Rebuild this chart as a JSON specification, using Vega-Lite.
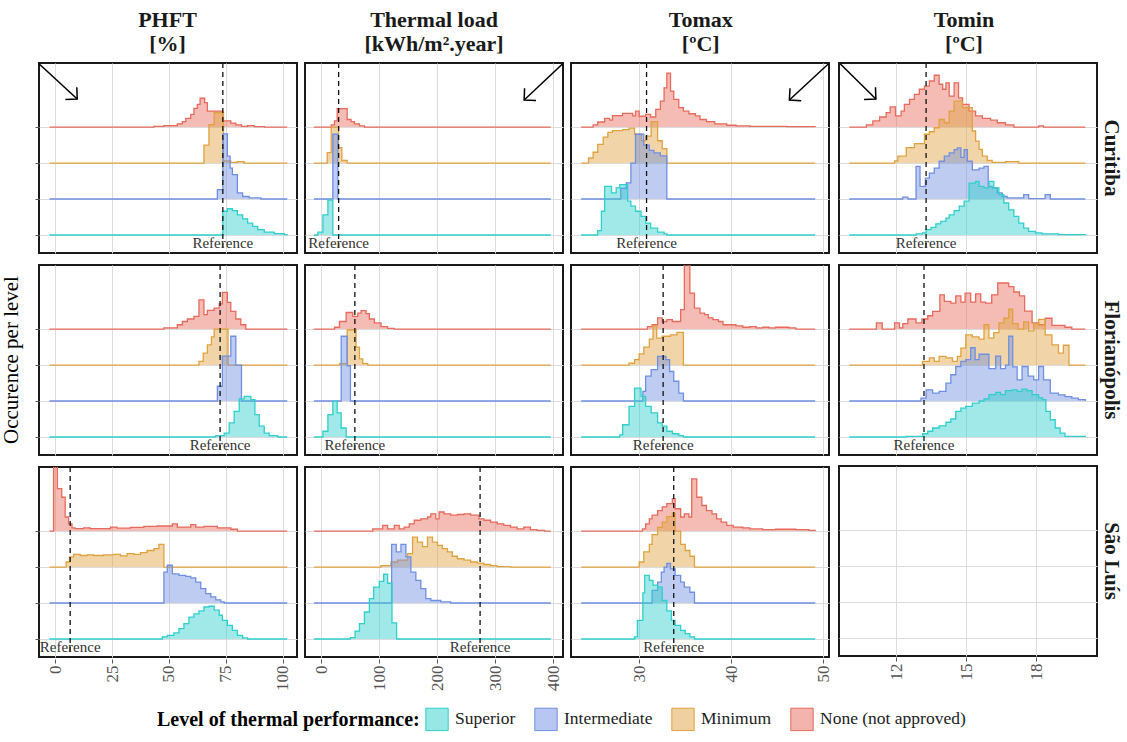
{
"$schema": "https://vega.github.io/schema/vega-lite/v6.json",
"background": "white",
"padding": {"left": 0, "top": 9, "right": 0, "bottom": 0},
"spacing": 6,
"config": {
  "font": "Liberation Serif",
  "view": {"stroke": "#1a1a1a", "strokeWidth": 2},
  "axis": {"gridColor": "#dcdcdc", "gridWidth": 1, "domain": false, "labelFont": "Liberation Serif", "labelFontSize": 17, "labelColor": "#555555", "tickColor": "#555555", "tickSize": 4},
  "axisX": {"labelAngle": -90, "grid": true, "labelPadding": 2},
  "title": {"font": "Liberation Serif", "fontSize": 22, "fontWeight": "bold", "color": "#1a1a1a", "anchor": "middle", "offset": 5, "lineHeight": 24},
  "legend": {"titleFont": "Liberation Serif", "titleFontSize": 20, "titleFontWeight": "bold", "titleColor": "#000000", "labelFont": "Liberation Serif", "labelFontSize": 17.5, "labelColor": "#222222", "columnPadding": 16, "labelOffset": 6, "titleLimit": 500, "layout": {"bottom": {"anchor": "middle"}}}
},
"datasets": {
"phft": [
{"c":"C","l":"N","x":-2.5,"h":0},{"c":"C","l":"N","x":43.4,"h":0.02},{"c":"C","l":"N","x":47.8,"h":0.04},{"c":"C","l":"N","x":53.7,"h":0.09},{"c":"C","l":"N","x":55.9,"h":0.15},{"c":"C","l":"N","x":57.4,"h":0.24},{"c":"C","l":"N","x":59.6,"h":0.35},{"c":"C","l":"N","x":61,"h":0.52},{"c":"C","l":"N","x":62.5,"h":0.63},{"c":"C","l":"N","x":63.7,"h":0.8},{"c":"C","l":"N","x":65.7,"h":0.68},{"c":"C","l":"N","x":66.9,"h":0.44},{"c":"C","l":"N","x":73.7,"h":0.17},{"c":"C","l":"N","x":77.2,"h":0.11},{"c":"C","l":"N","x":79.4,"h":0.06},{"c":"C","l":"N","x":81.9,"h":0.02},{"c":"C","l":"N","x":84.6,"h":0.04},{"c":"C","l":"N","x":87.5,"h":0.01},{"c":"C","l":"N","x":92,"h":0},{"c":"C","l":"N","x":102,"h":0},
{"c":"C","l":"M","x":-2.5,"h":0},{"c":"C","l":"M","x":65.4,"h":0.5},{"c":"C","l":"M","x":67.6,"h":1.07},{"c":"C","l":"M","x":69.9,"h":1.4},{"c":"C","l":"M","x":74,"h":0.06},{"c":"C","l":"M","x":77.2,"h":0.02},{"c":"C","l":"M","x":80.1,"h":0.04},{"c":"C","l":"M","x":83.1,"h":0},{"c":"C","l":"M","x":102,"h":0},
{"c":"C","l":"I","x":-2.5,"h":0},{"c":"C","l":"I","x":71.3,"h":0.26},{"c":"C","l":"I","x":73.7,"h":1.81},{"c":"C","l":"I","x":75.7,"h":1.19},{"c":"C","l":"I","x":76.9,"h":0.86},{"c":"C","l":"I","x":77.9,"h":0.68},{"c":"C","l":"I","x":80.1,"h":0.17},{"c":"C","l":"I","x":82.4,"h":0.07},{"c":"C","l":"I","x":85.3,"h":0.03},{"c":"C","l":"I","x":90.4,"h":0},{"c":"C","l":"I","x":102,"h":0},
{"c":"C","l":"S","x":-2.5,"h":0},{"c":"C","l":"S","x":73.7,"h":0.66},{"c":"C","l":"S","x":75.7,"h":0.73},{"c":"C","l":"S","x":77.9,"h":0.68},{"c":"C","l":"S","x":80.1,"h":0.56},{"c":"C","l":"S","x":82.4,"h":0.45},{"c":"C","l":"S","x":84.6,"h":0.33},{"c":"C","l":"S","x":86.8,"h":0.24},{"c":"C","l":"S","x":89,"h":0.15},{"c":"C","l":"S","x":91.9,"h":0.08},{"c":"C","l":"S","x":96.3,"h":0.04},{"c":"C","l":"S","x":100.7,"h":0.01},{"c":"C","l":"S","x":102,"h":0},
{"c":"F","l":"N","x":-2.5,"h":0},{"c":"F","l":"N","x":47.8,"h":0.03},{"c":"F","l":"N","x":53.7,"h":0.12},{"c":"F","l":"N","x":55.9,"h":0.21},{"c":"F","l":"N","x":58.1,"h":0.28},{"c":"F","l":"N","x":61,"h":0.35},{"c":"F","l":"N","x":63.2,"h":0.81},{"c":"F","l":"N","x":65.4,"h":0.4},{"c":"F","l":"N","x":66.9,"h":0.52},{"c":"F","l":"N","x":69.9,"h":0.58},{"c":"F","l":"N","x":72.1,"h":0.7},{"c":"F","l":"N","x":73.5,"h":1.02},{"c":"F","l":"N","x":75.7,"h":0.74},{"c":"F","l":"N","x":77.2,"h":0.49},{"c":"F","l":"N","x":79.4,"h":0.28},{"c":"F","l":"N","x":81.6,"h":0.12},{"c":"F","l":"N","x":83.8,"h":0},{"c":"F","l":"N","x":102,"h":0},
{"c":"F","l":"M","x":-2.5,"h":0},{"c":"F","l":"M","x":63.2,"h":0.1},{"c":"F","l":"M","x":65.1,"h":0.33},{"c":"F","l":"M","x":66.9,"h":0.56},{"c":"F","l":"M","x":68.7,"h":0.78},{"c":"F","l":"M","x":69.9,"h":1.0},{"c":"F","l":"M","x":76,"h":0},{"c":"F","l":"M","x":102,"h":0},
{"c":"F","l":"I","x":-2.5,"h":0},{"c":"F","l":"I","x":71.3,"h":0.41},{"c":"F","l":"I","x":73.5,"h":1.25},{"c":"F","l":"I","x":77.2,"h":1.8},{"c":"F","l":"I","x":79.4,"h":1.0},{"c":"F","l":"I","x":81.9,"h":0},{"c":"F","l":"I","x":102,"h":0},
{"c":"F","l":"S","x":-2.5,"h":0},{"c":"F","l":"S","x":70.6,"h":0.04},{"c":"F","l":"S","x":74.3,"h":0.11},{"c":"F","l":"S","x":76.5,"h":0.39},{"c":"F","l":"S","x":78.7,"h":0.71},{"c":"F","l":"S","x":80.9,"h":1.06},{"c":"F","l":"S","x":83.1,"h":1.13},{"c":"F","l":"S","x":86,"h":1.04},{"c":"F","l":"S","x":87.8,"h":0.62},{"c":"F","l":"S","x":89.7,"h":0.3},{"c":"F","l":"S","x":91.9,"h":0.11},{"c":"F","l":"S","x":94.1,"h":0.04},{"c":"F","l":"S","x":97.8,"h":0},{"c":"F","l":"S","x":102,"h":0},
{"c":"S","l":"N","x":-2.5,"h":0},{"c":"S","l":"N","x":-0.7,"h":1.9},{"c":"S","l":"N","x":1,"h":1.18},{"c":"S","l":"N","x":2.9,"h":0.94},{"c":"S","l":"N","x":4.4,"h":0.39},{"c":"S","l":"N","x":5.9,"h":0.2},{"c":"S","l":"N","x":7.4,"h":0.09},{"c":"S","l":"N","x":8.8,"h":0.07},{"c":"S","l":"N","x":12.5,"h":0.09},{"c":"S","l":"N","x":15.4,"h":0.07},{"c":"S","l":"N","x":24.3,"h":0.11},{"c":"S","l":"N","x":27.2,"h":0.08},{"c":"S","l":"N","x":33.1,"h":0.1},{"c":"S","l":"N","x":39,"h":0.13},{"c":"S","l":"N","x":44.9,"h":0.14},{"c":"S","l":"N","x":51.5,"h":0.2},{"c":"S","l":"N","x":53.7,"h":0.11},{"c":"S","l":"N","x":59.6,"h":0.18},{"c":"S","l":"N","x":61.8,"h":0.11},{"c":"S","l":"N","x":65.4,"h":0.13},{"c":"S","l":"N","x":71.3,"h":0.09},{"c":"S","l":"N","x":77.2,"h":0.05},{"c":"S","l":"N","x":80.1,"h":0},{"c":"S","l":"N","x":102,"h":0},
{"c":"S","l":"M","x":-2.5,"h":0},{"c":"S","l":"M","x":4.85,"h":0.14},{"c":"S","l":"M","x":6.3,"h":0.28},{"c":"S","l":"M","x":8.1,"h":0.35},{"c":"S","l":"M","x":11,"h":0.32},{"c":"S","l":"M","x":14,"h":0.34},{"c":"S","l":"M","x":16.9,"h":0.32},{"c":"S","l":"M","x":21.3,"h":0.34},{"c":"S","l":"M","x":25.7,"h":0.35},{"c":"S","l":"M","x":28.7,"h":0.31},{"c":"S","l":"M","x":31.6,"h":0.37},{"c":"S","l":"M","x":34.6,"h":0.35},{"c":"S","l":"M","x":37.5,"h":0.4},{"c":"S","l":"M","x":40.4,"h":0.46},{"c":"S","l":"M","x":43.4,"h":0.51},{"c":"S","l":"M","x":45.6,"h":0.63},{"c":"S","l":"M","x":47.8,"h":0},{"c":"S","l":"M","x":102,"h":0},
{"c":"S","l":"I","x":-2.5,"h":0},{"c":"S","l":"I","x":47.8,"h":0.86},{"c":"S","l":"I","x":49.3,"h":1.05},{"c":"S","l":"I","x":51.5,"h":0.81},{"c":"S","l":"I","x":54.4,"h":0.77},{"c":"S","l":"I","x":57.4,"h":0.74},{"c":"S","l":"I","x":59.6,"h":0.7},{"c":"S","l":"I","x":61.8,"h":0.58},{"c":"S","l":"I","x":64,"h":0.4},{"c":"S","l":"I","x":66.2,"h":0.26},{"c":"S","l":"I","x":68.4,"h":0.17},{"c":"S","l":"I","x":70.6,"h":0.09},{"c":"S","l":"I","x":72.8,"h":0.03},{"c":"S","l":"I","x":74.3,"h":0},{"c":"S","l":"I","x":102,"h":0},
{"c":"S","l":"S","x":-2.5,"h":0},{"c":"S","l":"S","x":47.1,"h":0.06},{"c":"S","l":"S","x":49.3,"h":0.1},{"c":"S","l":"S","x":52.2,"h":0.17},{"c":"S","l":"S","x":54.4,"h":0.29},{"c":"S","l":"S","x":56.6,"h":0.43},{"c":"S","l":"S","x":58.8,"h":0.61},{"c":"S","l":"S","x":61,"h":0.7},{"c":"S","l":"S","x":63.2,"h":0.78},{"c":"S","l":"S","x":65.4,"h":0.89},{"c":"S","l":"S","x":67.6,"h":0.91},{"c":"S","l":"S","x":69.9,"h":0.8},{"c":"S","l":"S","x":72.1,"h":0.66},{"c":"S","l":"S","x":73.5,"h":0.52},{"c":"S","l":"S","x":75.7,"h":0.38},{"c":"S","l":"S","x":77.9,"h":0.24},{"c":"S","l":"S","x":80.1,"h":0.1},{"c":"S","l":"S","x":82.4,"h":0.03},{"c":"S","l":"S","x":84.6,"h":0},{"c":"S","l":"S","x":102,"h":0},
{"c":"C","l":"R","x":73.7},{"c":"F","l":"R","x":72.5},{"c":"S","l":"R","x":6.6},
{"c":"C","l":"A","x":-7.1,"y":5.76,"x2":9.7,"y2":4.78}
],
"load": [
{"c":"C","l":"N","x":-12.6,"h":0},{"c":"C","l":"N","x":17.2,"h":0.06},{"c":"C","l":"N","x":22.9,"h":0.17},{"c":"C","l":"N","x":27.5,"h":0.51},{"c":"C","l":"N","x":44.7,"h":0.21},{"c":"C","l":"N","x":51.5,"h":0.15},{"c":"C","l":"N","x":57.3,"h":0.09},{"c":"C","l":"N","x":65.9,"h":0.03},{"c":"C","l":"N","x":74.5,"h":0},{"c":"C","l":"N","x":396,"h":0},
{"c":"C","l":"M","x":-12.6,"h":0},{"c":"C","l":"M","x":10.3,"h":0.29},{"c":"C","l":"M","x":17.2,"h":1.0},{"c":"C","l":"M","x":29.8,"h":0.43},{"c":"C","l":"M","x":35.5,"h":0.07},{"c":"C","l":"M","x":44.7,"h":0},{"c":"C","l":"M","x":396,"h":0},
{"c":"C","l":"I","x":-12.6,"h":0},{"c":"C","l":"I","x":20,"h":1.8},{"c":"C","l":"I","x":28.6,"h":0},{"c":"C","l":"I","x":396,"h":0},
{"c":"C","l":"S","x":-12.6,"h":0},{"c":"C","l":"S","x":-5.7,"h":0.08},{"c":"C","l":"S","x":2.9,"h":0.56},{"c":"C","l":"S","x":11.5,"h":0.97},{"c":"C","l":"S","x":20,"h":0},{"c":"C","l":"S","x":396,"h":0},
{"c":"F","l":"N","x":-12.6,"h":0},{"c":"F","l":"N","x":22.9,"h":0.05},{"c":"F","l":"N","x":31.5,"h":0.21},{"c":"F","l":"N","x":43,"h":0.46},{"c":"F","l":"N","x":54.4,"h":0.35},{"c":"F","l":"N","x":63,"h":0.44},{"c":"F","l":"N","x":68.7,"h":0.51},{"c":"F","l":"N","x":77.3,"h":0.43},{"c":"F","l":"N","x":83,"h":0.28},{"c":"F","l":"N","x":91.6,"h":0.17},{"c":"F","l":"N","x":103.1,"h":0.07},{"c":"F","l":"N","x":114.5,"h":0.02},{"c":"F","l":"N","x":126,"h":0},{"c":"F","l":"N","x":396,"h":0},
{"c":"F","l":"M","x":-12.6,"h":0},{"c":"F","l":"M","x":31.5,"h":0.04},{"c":"F","l":"M","x":44.7,"h":0.98},{"c":"F","l":"M","x":60.1,"h":0.5},{"c":"F","l":"M","x":65.9,"h":0.17},{"c":"F","l":"M","x":71.6,"h":0.04},{"c":"F","l":"M","x":80.2,"h":0},{"c":"F","l":"M","x":396,"h":0},
{"c":"F","l":"I","x":-12.6,"h":0},{"c":"F","l":"I","x":34.4,"h":1.8},{"c":"F","l":"I","x":44.7,"h":0.98},{"c":"F","l":"I","x":50.4,"h":0},{"c":"F","l":"I","x":396,"h":0},
{"c":"F","l":"S","x":-12.6,"h":0},{"c":"F","l":"S","x":2.9,"h":0.16},{"c":"F","l":"S","x":11.5,"h":0.62},{"c":"F","l":"S","x":20,"h":0.99},{"c":"F","l":"S","x":27.5,"h":0.67},{"c":"F","l":"S","x":34.4,"h":0.25},{"c":"F","l":"S","x":43,"h":0},{"c":"F","l":"S","x":396,"h":0},
{"c":"S","l":"N","x":-12.6,"h":0},{"c":"S","l":"N","x":88.8,"h":0.06},{"c":"S","l":"N","x":106,"h":0.16},{"c":"S","l":"N","x":114.5,"h":0.06},{"c":"S","l":"N","x":126,"h":0.16},{"c":"S","l":"N","x":134.6,"h":0.06},{"c":"S","l":"N","x":143.2,"h":0.11},{"c":"S","l":"N","x":151.8,"h":0.2},{"c":"S","l":"N","x":160.4,"h":0.3},{"c":"S","l":"N","x":171.8,"h":0.34},{"c":"S","l":"N","x":183.3,"h":0.39},{"c":"S","l":"N","x":189,"h":0.48},{"c":"S","l":"N","x":197.6,"h":0.34},{"c":"S","l":"N","x":203.3,"h":0.53},{"c":"S","l":"N","x":211.9,"h":0.48},{"c":"S","l":"N","x":223.4,"h":0.44},{"c":"S","l":"N","x":234.8,"h":0.46},{"c":"S","l":"N","x":246.3,"h":0.48},{"c":"S","l":"N","x":257.7,"h":0.44},{"c":"S","l":"N","x":272,"h":0.34},{"c":"S","l":"N","x":280.6,"h":0.3},{"c":"S","l":"N","x":292.1,"h":0.25},{"c":"S","l":"N","x":303.5,"h":0.2},{"c":"S","l":"N","x":315,"h":0.16},{"c":"S","l":"N","x":326.5,"h":0.11},{"c":"S","l":"N","x":337.9,"h":0.06},{"c":"S","l":"N","x":349.4,"h":0.11},{"c":"S","l":"N","x":360.8,"h":0.04},{"c":"S","l":"N","x":372.3,"h":0.02},{"c":"S","l":"N","x":385,"h":0},{"c":"S","l":"N","x":396,"h":0},
{"c":"S","l":"M","x":-12.6,"h":0},{"c":"S","l":"M","x":103.1,"h":0.04},{"c":"S","l":"M","x":120.3,"h":0.14},{"c":"S","l":"M","x":131.7,"h":0.19},{"c":"S","l":"M","x":148.9,"h":0.37},{"c":"S","l":"M","x":157.5,"h":0.83},{"c":"S","l":"M","x":166.1,"h":0.69},{"c":"S","l":"M","x":174.7,"h":0.57},{"c":"S","l":"M","x":183.3,"h":0.83},{"c":"S","l":"M","x":191.9,"h":0.69},{"c":"S","l":"M","x":200.5,"h":0.6},{"c":"S","l":"M","x":209,"h":0.51},{"c":"S","l":"M","x":217.6,"h":0.42},{"c":"S","l":"M","x":226.2,"h":0.3},{"c":"S","l":"M","x":234.8,"h":0.23},{"c":"S","l":"M","x":246.3,"h":0.19},{"c":"S","l":"M","x":257.7,"h":0.14},{"c":"S","l":"M","x":269.2,"h":0.11},{"c":"S","l":"M","x":280.6,"h":0.07},{"c":"S","l":"M","x":292.1,"h":0.04},{"c":"S","l":"M","x":303.5,"h":0.01},{"c":"S","l":"M","x":326.5,"h":0},{"c":"S","l":"M","x":396,"h":0},
{"c":"S","l":"I","x":-12.6,"h":0},{"c":"S","l":"I","x":121.4,"h":1.63},{"c":"S","l":"I","x":129.4,"h":1.42},{"c":"S","l":"I","x":137.5,"h":1.63},{"c":"S","l":"I","x":146,"h":1.28},{"c":"S","l":"I","x":154.6,"h":0.86},{"c":"S","l":"I","x":163.2,"h":0.63},{"c":"S","l":"I","x":171.8,"h":0.4},{"c":"S","l":"I","x":180.4,"h":0.12},{"c":"S","l":"I","x":189,"h":0.07},{"c":"S","l":"I","x":206.2,"h":0.03},{"c":"S","l":"I","x":223.4,"h":0},{"c":"S","l":"I","x":396,"h":0},
{"c":"S","l":"S","x":-12.6,"h":0},{"c":"S","l":"S","x":50.4,"h":0.04},{"c":"S","l":"S","x":58.4,"h":0.22},{"c":"S","l":"S","x":65.9,"h":0.43},{"c":"S","l":"S","x":74.5,"h":0.75},{"c":"S","l":"S","x":83,"h":1.12},{"c":"S","l":"S","x":90.5,"h":1.44},{"c":"S","l":"S","x":100.2,"h":1.6},{"c":"S","l":"S","x":107.7,"h":1.8},{"c":"S","l":"S","x":114.5,"h":1.55},{"c":"S","l":"S","x":122,"h":0.45},{"c":"S","l":"S","x":130,"h":0},{"c":"S","l":"S","x":396,"h":0},
{"c":"C","l":"R","x":30},{"c":"F","l":"R","x":58},{"c":"S","l":"R","x":274},
{"c":"C","l":"A","x":416.5,"y":5.76,"x2":350,"y2":4.75}
],
"tmax": [
{"c":"C","l":"N","x":23.7,"h":0},{"c":"C","l":"N","x":25,"h":0.06},{"c":"C","l":"N","x":25.5,"h":0.14},{"c":"C","l":"N","x":26.25,"h":0.24},{"c":"C","l":"N","x":26.8,"h":0.19},{"c":"C","l":"N","x":27.1,"h":0.32},{"c":"C","l":"N","x":28.2,"h":0.38},{"c":"C","l":"N","x":29.3,"h":0.31},{"c":"C","l":"N","x":29.6,"h":0.44},{"c":"C","l":"N","x":30,"h":0.3},{"c":"C","l":"N","x":30.7,"h":0.35},{"c":"C","l":"N","x":31.25,"h":0.28},{"c":"C","l":"N","x":31.8,"h":0.49},{"c":"C","l":"N","x":32.3,"h":0.72},{"c":"C","l":"N","x":32.7,"h":1.09},{"c":"C","l":"N","x":33,"h":1.5},{"c":"C","l":"N","x":33.4,"h":1.0},{"c":"C","l":"N","x":33.75,"h":0.77},{"c":"C","l":"N","x":34.3,"h":0.54},{"c":"C","l":"N","x":34.8,"h":0.44},{"c":"C","l":"N","x":35.4,"h":0.37},{"c":"C","l":"N","x":36.1,"h":0.31},{"c":"C","l":"N","x":36.6,"h":0.21},{"c":"C","l":"N","x":37.3,"h":0.15},{"c":"C","l":"N","x":38.2,"h":0.09},{"c":"C","l":"N","x":39.5,"h":0.05},{"c":"C","l":"N","x":40.5,"h":0.03},{"c":"C","l":"N","x":42,"h":0.02},{"c":"C","l":"N","x":46,"h":0.01},{"c":"C","l":"N","x":49.1,"h":0},
{"c":"C","l":"M","x":23.7,"h":0},{"c":"C","l":"M","x":24.5,"h":0.14},{"c":"C","l":"M","x":25,"h":0.3},{"c":"C","l":"M","x":25.5,"h":0.52},{"c":"C","l":"M","x":26.1,"h":0.72},{"c":"C","l":"M","x":26.6,"h":0.85},{"c":"C","l":"M","x":27.1,"h":0.9},{"c":"C","l":"M","x":28.2,"h":0.93},{"c":"C","l":"M","x":28.9,"h":0.97},{"c":"C","l":"M","x":29.5,"h":0.8},{"c":"C","l":"M","x":30.25,"h":0.62},{"c":"C","l":"M","x":30.7,"h":0.75},{"c":"C","l":"M","x":31.3,"h":1.15},{"c":"C","l":"M","x":32,"h":0.62},{"c":"C","l":"M","x":32.5,"h":0.4},{"c":"C","l":"M","x":33,"h":0},{"c":"C","l":"M","x":49.1,"h":0},
{"c":"C","l":"I","x":23.7,"h":0},{"c":"C","l":"I","x":28,"h":0.3},{"c":"C","l":"I","x":28.6,"h":0.45},{"c":"C","l":"I","x":29.1,"h":1.0},{"c":"C","l":"I","x":29.6,"h":1.8},{"c":"C","l":"I","x":30.5,"h":1.5},{"c":"C","l":"I","x":31.1,"h":1.35},{"c":"C","l":"I","x":31.6,"h":1.28},{"c":"C","l":"I","x":32.3,"h":1.2},{"c":"C","l":"I","x":33,"h":0},{"c":"C","l":"I","x":49.1,"h":0},
{"c":"C","l":"S","x":23.7,"h":0},{"c":"C","l":"S","x":25.5,"h":0.12},{"c":"C","l":"S","x":25.9,"h":0.66},{"c":"C","l":"S","x":26.25,"h":1.35},{"c":"C","l":"S","x":27,"h":1.17},{"c":"C","l":"S","x":27.5,"h":1.31},{"c":"C","l":"S","x":27.9,"h":1.4},{"c":"C","l":"S","x":28.75,"h":0.94},{"c":"C","l":"S","x":29.1,"h":0.8},{"c":"C","l":"S","x":29.6,"h":0.66},{"c":"C","l":"S","x":30.2,"h":0.52},{"c":"C","l":"S","x":30.7,"h":0.33},{"c":"C","l":"S","x":31.25,"h":0.19},{"c":"C","l":"S","x":32,"h":0.08},{"c":"C","l":"S","x":32.7,"h":0.03},{"c":"C","l":"S","x":33,"h":0},{"c":"C","l":"S","x":49.1,"h":0},
{"c":"F","l":"N","x":23.7,"h":0},{"c":"F","l":"N","x":30.9,"h":0.07},{"c":"F","l":"N","x":31.4,"h":0.12},{"c":"F","l":"N","x":32,"h":0.31},{"c":"F","l":"N","x":32.5,"h":0.21},{"c":"F","l":"N","x":33,"h":0.26},{"c":"F","l":"N","x":33.6,"h":0.21},{"c":"F","l":"N","x":34.5,"h":0.54},{"c":"F","l":"N","x":34.9,"h":1.9},{"c":"F","l":"N","x":35.5,"h":1.0},{"c":"F","l":"N","x":36,"h":0.58},{"c":"F","l":"N","x":36.6,"h":0.44},{"c":"F","l":"N","x":37.1,"h":0.4},{"c":"F","l":"N","x":37.5,"h":0.31},{"c":"F","l":"N","x":38,"h":0.26},{"c":"F","l":"N","x":38.6,"h":0.21},{"c":"F","l":"N","x":39.1,"h":0.12},{"c":"F","l":"N","x":39.8,"h":0.12},{"c":"F","l":"N","x":40.5,"h":0.09},{"c":"F","l":"N","x":41.25,"h":0.05},{"c":"F","l":"N","x":42,"h":0.07},{"c":"F","l":"N","x":42.7,"h":0.03},{"c":"F","l":"N","x":43.4,"h":0.05},{"c":"F","l":"N","x":44.1,"h":0.03},{"c":"F","l":"N","x":44.8,"h":0.05},{"c":"F","l":"N","x":46.25,"h":0.03},{"c":"F","l":"N","x":47,"h":0},{"c":"F","l":"N","x":49.1,"h":0},
{"c":"F","l":"M","x":23.7,"h":0},{"c":"F","l":"M","x":28.9,"h":0.05},{"c":"F","l":"M","x":29.5,"h":0.15},{"c":"F","l":"M","x":30,"h":0.31},{"c":"F","l":"M","x":30.5,"h":0.5},{"c":"F","l":"M","x":31.1,"h":0.72},{"c":"F","l":"M","x":31.5,"h":1.09},{"c":"F","l":"M","x":31.9,"h":0.75},{"c":"F","l":"M","x":32.5,"h":0.8},{"c":"F","l":"M","x":33.4,"h":0.84},{"c":"F","l":"M","x":34.1,"h":0.91},{"c":"F","l":"M","x":34.8,"h":0},{"c":"F","l":"M","x":49.1,"h":0},
{"c":"F","l":"I","x":23.7,"h":0},{"c":"F","l":"I","x":30.4,"h":0.27},{"c":"F","l":"I","x":30.7,"h":0.69},{"c":"F","l":"I","x":31.3,"h":0.87},{"c":"F","l":"I","x":32,"h":1.24},{"c":"F","l":"I","x":32.9,"h":1.15},{"c":"F","l":"I","x":33.3,"h":0.82},{"c":"F","l":"I","x":33.75,"h":0.55},{"c":"F","l":"I","x":34.3,"h":0.22},{"c":"F","l":"I","x":34.8,"h":0},{"c":"F","l":"I","x":49.1,"h":0},
{"c":"F","l":"S","x":23.7,"h":0},{"c":"F","l":"S","x":27.9,"h":0.06},{"c":"F","l":"S","x":28.2,"h":0.34},{"c":"F","l":"S","x":28.9,"h":0.85},{"c":"F","l":"S","x":29.5,"h":1.36},{"c":"F","l":"S","x":30.2,"h":1.13},{"c":"F","l":"S","x":30.7,"h":0.85},{"c":"F","l":"S","x":31.3,"h":0.67},{"c":"F","l":"S","x":32,"h":0.39},{"c":"F","l":"S","x":32.5,"h":0.3},{"c":"F","l":"S","x":33,"h":0.16},{"c":"F","l":"S","x":33.6,"h":0.09},{"c":"F","l":"S","x":34.3,"h":0.04},{"c":"F","l":"S","x":34.8,"h":0},{"c":"F","l":"S","x":49.1,"h":0},
{"c":"S","l":"N","x":23.7,"h":0},{"c":"S","l":"N","x":30.36,"h":0.06},{"c":"S","l":"N","x":30.7,"h":0.2},{"c":"S","l":"N","x":31.1,"h":0.34},{"c":"S","l":"N","x":31.4,"h":0.44},{"c":"S","l":"N","x":32,"h":0.57},{"c":"S","l":"N","x":32.5,"h":0.67},{"c":"S","l":"N","x":33,"h":0.76},{"c":"S","l":"N","x":33.6,"h":0.9},{"c":"S","l":"N","x":33.9,"h":0.62},{"c":"S","l":"N","x":34.5,"h":0.39},{"c":"S","l":"N","x":34.9,"h":0.48},{"c":"S","l":"N","x":35.4,"h":0.39},{"c":"S","l":"N","x":35.7,"h":1.45},{"c":"S","l":"N","x":36.25,"h":0.94},{"c":"S","l":"N","x":36.8,"h":0.71},{"c":"S","l":"N","x":37.3,"h":0.57},{"c":"S","l":"N","x":37.9,"h":0.48},{"c":"S","l":"N","x":38.4,"h":0.34},{"c":"S","l":"N","x":38.9,"h":0.25},{"c":"S","l":"N","x":39.5,"h":0.16},{"c":"S","l":"N","x":40.2,"h":0.11},{"c":"S","l":"N","x":41.25,"h":0.09},{"c":"S","l":"N","x":42,"h":0.06},{"c":"S","l":"N","x":43.4,"h":0.04},{"c":"S","l":"N","x":44.8,"h":0.05},{"c":"S","l":"N","x":47,"h":0.04},{"c":"S","l":"N","x":48.4,"h":0.02},{"c":"S","l":"N","x":49.1,"h":0},
{"c":"S","l":"M","x":23.7,"h":0},{"c":"S","l":"M","x":30,"h":0.14},{"c":"S","l":"M","x":30.5,"h":0.42},{"c":"S","l":"M","x":31.1,"h":0.63},{"c":"S","l":"M","x":31.4,"h":0.9},{"c":"S","l":"M","x":32,"h":1.1},{"c":"S","l":"M","x":32.5,"h":1.25},{"c":"S","l":"M","x":33,"h":1.4},{"c":"S","l":"M","x":33.6,"h":1.5},{"c":"S","l":"M","x":33.9,"h":1.0},{"c":"S","l":"M","x":34.5,"h":0.63},{"c":"S","l":"M","x":35,"h":0.46},{"c":"S","l":"M","x":35.5,"h":0.3},{"c":"S","l":"M","x":36,"h":0},{"c":"S","l":"M","x":49.1,"h":0},
{"c":"S","l":"I","x":23.7,"h":0},{"c":"S","l":"I","x":31.4,"h":0.35},{"c":"S","l":"I","x":32,"h":0.58},{"c":"S","l":"I","x":32.4,"h":0.86},{"c":"S","l":"I","x":32.7,"h":1.0},{"c":"S","l":"I","x":33,"h":1.1},{"c":"S","l":"I","x":33.4,"h":0.95},{"c":"S","l":"I","x":33.9,"h":0.77},{"c":"S","l":"I","x":34.5,"h":0.58},{"c":"S","l":"I","x":34.9,"h":0.44},{"c":"S","l":"I","x":35.5,"h":0.3},{"c":"S","l":"I","x":36,"h":0},{"c":"S","l":"I","x":49.1,"h":0},
{"c":"S","l":"S","x":23.7,"h":0},{"c":"S","l":"S","x":29.5,"h":0.06},{"c":"S","l":"S","x":29.8,"h":0.52},{"c":"S","l":"S","x":30.4,"h":1.28},{"c":"S","l":"S","x":30.6,"h":1.77},{"c":"S","l":"S","x":31.1,"h":1.63},{"c":"S","l":"S","x":31.5,"h":1.5},{"c":"S","l":"S","x":32,"h":1.44},{"c":"S","l":"S","x":32.5,"h":1.07},{"c":"S","l":"S","x":33,"h":0.78},{"c":"S","l":"S","x":33.5,"h":0.52},{"c":"S","l":"S","x":33.9,"h":0.38},{"c":"S","l":"S","x":34.5,"h":0.24},{"c":"S","l":"S","x":35,"h":0.15},{"c":"S","l":"S","x":35.5,"h":0.06},{"c":"S","l":"S","x":36,"h":0},{"c":"S","l":"S","x":49.1,"h":0},
{"c":"C","l":"R","x":30.8},{"c":"F","l":"R","x":32.6},{"c":"S","l":"R","x":33.75},
{"c":"C","l":"A","x":50.55,"y":5.76,"x2":46.3,"y2":4.75}
],
"tmin": [
{"c":"C","l":"N","x":9.99,"h":0},{"c":"C","l":"N","x":10.72,"h":0.06},{"c":"C","l":"N","x":11,"h":0.17},{"c":"C","l":"N","x":11.29,"h":0.28},{"c":"C","l":"N","x":11.57,"h":0.4},{"c":"C","l":"N","x":11.74,"h":0.56},{"c":"C","l":"N","x":11.97,"h":0.31},{"c":"C","l":"N","x":12.21,"h":0.44},{"c":"C","l":"N","x":12.35,"h":0.63},{"c":"C","l":"N","x":12.57,"h":0.77},{"c":"C","l":"N","x":12.78,"h":0.91},{"c":"C","l":"N","x":12.99,"h":1.05},{"c":"C","l":"N","x":13.21,"h":1.14},{"c":"C","l":"N","x":13.42,"h":1.28},{"c":"C","l":"N","x":13.63,"h":1.44},{"c":"C","l":"N","x":13.84,"h":1.19},{"c":"C","l":"N","x":13.99,"h":1.05},{"c":"C","l":"N","x":14.13,"h":1.23},{"c":"C","l":"N","x":14.27,"h":0.86},{"c":"C","l":"N","x":14.48,"h":1.23},{"c":"C","l":"N","x":14.67,"h":0.81},{"c":"C","l":"N","x":14.84,"h":0.63},{"c":"C","l":"N","x":15.12,"h":0.44},{"c":"C","l":"N","x":15.4,"h":0.31},{"c":"C","l":"N","x":15.69,"h":0.24},{"c":"C","l":"N","x":16.04,"h":0.19},{"c":"C","l":"N","x":16.33,"h":0.12},{"c":"C","l":"N","x":16.68,"h":0.06},{"c":"C","l":"N","x":17.04,"h":0},{"c":"C","l":"N","x":18.1,"h":0.03},{"c":"C","l":"N","x":18.31,"h":0},{"c":"C","l":"N","x":20.1,"h":0},
{"c":"C","l":"M","x":9.99,"h":0},{"c":"C","l":"M","x":11.93,"h":0.06},{"c":"C","l":"M","x":12.07,"h":0.19},{"c":"C","l":"M","x":12.43,"h":0.43},{"c":"C","l":"M","x":12.78,"h":0.54},{"c":"C","l":"M","x":13.21,"h":0.8},{"c":"C","l":"M","x":13.42,"h":0.87},{"c":"C","l":"M","x":13.63,"h":0.98},{"c":"C","l":"M","x":13.84,"h":1.21},{"c":"C","l":"M","x":14.06,"h":1.12},{"c":"C","l":"M","x":14.27,"h":1.44},{"c":"C","l":"M","x":14.48,"h":1.72},{"c":"C","l":"M","x":14.84,"h":1.54},{"c":"C","l":"M","x":15.26,"h":0.89},{"c":"C","l":"M","x":15.4,"h":0.61},{"c":"C","l":"M","x":15.55,"h":0.38},{"c":"C","l":"M","x":15.69,"h":0.19},{"c":"C","l":"M","x":15.9,"h":0.07},{"c":"C","l":"M","x":16.11,"h":0.02},{"c":"C","l":"M","x":16.68,"h":0.04},{"c":"C","l":"M","x":17.25,"h":0},{"c":"C","l":"M","x":20.1,"h":0},
{"c":"C","l":"I","x":9.99,"h":0},{"c":"C","l":"I","x":12.28,"h":0.05},{"c":"C","l":"I","x":12.5,"h":0},{"c":"C","l":"I","x":12.85,"h":0.91},{"c":"C","l":"I","x":13.02,"h":0.35},{"c":"C","l":"I","x":13.25,"h":0.58},{"c":"C","l":"I","x":13.42,"h":0.72},{"c":"C","l":"I","x":13.63,"h":0.86},{"c":"C","l":"I","x":13.84,"h":1.05},{"c":"C","l":"I","x":14.06,"h":1.19},{"c":"C","l":"I","x":14.27,"h":1.28},{"c":"C","l":"I","x":14.48,"h":1.37},{"c":"C","l":"I","x":14.62,"h":1.42},{"c":"C","l":"I","x":14.77,"h":1.16},{"c":"C","l":"I","x":14.91,"h":1.37},{"c":"C","l":"I","x":15.05,"h":1.05},{"c":"C","l":"I","x":15.26,"h":0.81},{"c":"C","l":"I","x":15.55,"h":0.86},{"c":"C","l":"I","x":15.76,"h":0.91},{"c":"C","l":"I","x":15.94,"h":0.35},{"c":"C","l":"I","x":16.11,"h":0.31},{"c":"C","l":"I","x":16.33,"h":0.17},{"c":"C","l":"I","x":16.54,"h":0.07},{"c":"C","l":"I","x":16.75,"h":0.03},{"c":"C","l":"I","x":17.46,"h":0.12},{"c":"C","l":"I","x":17.67,"h":0.01},{"c":"C","l":"I","x":18.38,"h":0.12},{"c":"C","l":"I","x":18.6,"h":0},{"c":"C","l":"I","x":20.1,"h":0},
{"c":"C","l":"S","x":9.99,"h":0},{"c":"C","l":"S","x":12.85,"h":0.03},{"c":"C","l":"S","x":13.13,"h":0.06},{"c":"C","l":"S","x":13.28,"h":0.15},{"c":"C","l":"S","x":13.49,"h":0.21},{"c":"C","l":"S","x":13.7,"h":0.31},{"c":"C","l":"S","x":13.91,"h":0.38},{"c":"C","l":"S","x":14.13,"h":0.47},{"c":"C","l":"S","x":14.27,"h":0.56},{"c":"C","l":"S","x":14.48,"h":0.68},{"c":"C","l":"S","x":14.7,"h":0.8},{"c":"C","l":"S","x":14.91,"h":0.94},{"c":"C","l":"S","x":15.12,"h":1.44},{"c":"C","l":"S","x":15.4,"h":1.49},{"c":"C","l":"S","x":15.55,"h":1.35},{"c":"C","l":"S","x":15.76,"h":1.31},{"c":"C","l":"S","x":15.97,"h":1.49},{"c":"C","l":"S","x":16.18,"h":1.31},{"c":"C","l":"S","x":16.4,"h":1.12},{"c":"C","l":"S","x":16.61,"h":0.89},{"c":"C","l":"S","x":16.82,"h":0.7},{"c":"C","l":"S","x":17.04,"h":0.52},{"c":"C","l":"S","x":17.25,"h":0.33},{"c":"C","l":"S","x":17.46,"h":0.19},{"c":"C","l":"S","x":17.67,"h":0.1},{"c":"C","l":"S","x":17.96,"h":0.06},{"c":"C","l":"S","x":18.24,"h":0.03},{"c":"C","l":"S","x":18.95,"h":0.01},{"c":"C","l":"S","x":20.1,"h":0},
{"c":"F","l":"N","x":9.99,"h":0},{"c":"F","l":"N","x":11.15,"h":0.17},{"c":"F","l":"N","x":11.4,"h":0},{"c":"F","l":"N","x":11.93,"h":0.17},{"c":"F","l":"N","x":12.14,"h":0.03},{"c":"F","l":"N","x":12.28,"h":0.15},{"c":"F","l":"N","x":12.5,"h":0.28},{"c":"F","l":"N","x":12.85,"h":0.17},{"c":"F","l":"N","x":13.1,"h":0.28},{"c":"F","l":"N","x":13.35,"h":0.37},{"c":"F","l":"N","x":13.56,"h":0.49},{"c":"F","l":"N","x":13.87,"h":0.95},{"c":"F","l":"N","x":14.06,"h":0.77},{"c":"F","l":"N","x":14.34,"h":0.72},{"c":"F","l":"N","x":14.55,"h":0.92},{"c":"F","l":"N","x":14.77,"h":0.75},{"c":"F","l":"N","x":14.95,"h":1.0},{"c":"F","l":"N","x":15.19,"h":0.75},{"c":"F","l":"N","x":15.4,"h":0.98},{"c":"F","l":"N","x":15.62,"h":0.75},{"c":"F","l":"N","x":15.83,"h":0.72},{"c":"F","l":"N","x":16.09,"h":0.95},{"c":"F","l":"N","x":16.35,"h":1.28},{"c":"F","l":"N","x":16.82,"h":1.18},{"c":"F","l":"N","x":17.04,"h":1.03},{"c":"F","l":"N","x":17.28,"h":0.92},{"c":"F","l":"N","x":17.5,"h":0.5},{"c":"F","l":"N","x":17.82,"h":0.17},{"c":"F","l":"N","x":18.1,"h":0.12},{"c":"F","l":"N","x":18.38,"h":0.3},{"c":"F","l":"N","x":18.67,"h":0.1},{"c":"F","l":"N","x":19.23,"h":0.05},{"c":"F","l":"N","x":19.52,"h":0},{"c":"F","l":"N","x":20.1,"h":0},
{"c":"F","l":"M","x":9.99,"h":0},{"c":"F","l":"M","x":13.13,"h":0.1},{"c":"F","l":"M","x":13.42,"h":0.2},{"c":"F","l":"M","x":13.63,"h":0.1},{"c":"F","l":"M","x":13.84,"h":0.24},{"c":"F","l":"M","x":14.13,"h":0.2},{"c":"F","l":"M","x":14.41,"h":0.1},{"c":"F","l":"M","x":14.62,"h":0.24},{"c":"F","l":"M","x":14.77,"h":0.47},{"c":"F","l":"M","x":14.98,"h":0.84},{"c":"F","l":"M","x":15.26,"h":0.78},{"c":"F","l":"M","x":15.55,"h":0.72},{"c":"F","l":"M","x":15.76,"h":1.12},{"c":"F","l":"M","x":15.97,"h":0.75},{"c":"F","l":"M","x":16.18,"h":0.9},{"c":"F","l":"M","x":16.4,"h":1.17},{"c":"F","l":"M","x":16.61,"h":1.3},{"c":"F","l":"M","x":16.82,"h":1.55},{"c":"F","l":"M","x":16.99,"h":1.15},{"c":"F","l":"M","x":17.22,"h":1.0},{"c":"F","l":"M","x":17.46,"h":1.2},{"c":"F","l":"M","x":17.67,"h":0.95},{"c":"F","l":"M","x":17.89,"h":1.15},{"c":"F","l":"M","x":18.1,"h":1.27},{"c":"F","l":"M","x":18.38,"h":0.84},{"c":"F","l":"M","x":18.67,"h":0.56},{"c":"F","l":"M","x":18.95,"h":0.33},{"c":"F","l":"M","x":19.16,"h":0.55},{"c":"F","l":"M","x":19.4,"h":0},{"c":"F","l":"M","x":20.1,"h":0},
{"c":"F","l":"I","x":9.99,"h":0},{"c":"F","l":"I","x":13.06,"h":0.08},{"c":"F","l":"I","x":13.28,"h":0.31},{"c":"F","l":"I","x":13.56,"h":0.22},{"c":"F","l":"I","x":13.84,"h":0.27},{"c":"F","l":"I","x":14.13,"h":0.5},{"c":"F","l":"I","x":14.34,"h":0.73},{"c":"F","l":"I","x":14.55,"h":0.96},{"c":"F","l":"I","x":14.77,"h":1.1},{"c":"F","l":"I","x":14.98,"h":1.15},{"c":"F","l":"I","x":15.19,"h":1.48},{"c":"F","l":"I","x":15.38,"h":1.15},{"c":"F","l":"I","x":15.55,"h":1.3},{"c":"F","l":"I","x":15.8,"h":1.3},{"c":"F","l":"I","x":15.97,"h":0.9},{"c":"F","l":"I","x":16.26,"h":1.25},{"c":"F","l":"I","x":16.47,"h":0.9},{"c":"F","l":"I","x":16.68,"h":1.0},{"c":"F","l":"I","x":16.82,"h":1.8},{"c":"F","l":"I","x":16.99,"h":0.95},{"c":"F","l":"I","x":17.18,"h":0.59},{"c":"F","l":"I","x":17.39,"h":0.96},{"c":"F","l":"I","x":17.65,"h":0.69},{"c":"F","l":"I","x":17.89,"h":0.59},{"c":"F","l":"I","x":18.1,"h":0.96},{"c":"F","l":"I","x":18.31,"h":0.59},{"c":"F","l":"I","x":18.6,"h":0.22},{"c":"F","l":"I","x":18.95,"h":0.17},{"c":"F","l":"I","x":19.23,"h":0.12},{"c":"F","l":"I","x":19.52,"h":0.08},{"c":"F","l":"I","x":19.8,"h":0.04},{"c":"F","l":"I","x":20.1,"h":0},
{"c":"F","l":"S","x":9.99,"h":0},{"c":"F","l":"S","x":12.43,"h":0.02},{"c":"F","l":"S","x":13.13,"h":0.09},{"c":"F","l":"S","x":13.35,"h":0.16},{"c":"F","l":"S","x":13.56,"h":0.25},{"c":"F","l":"S","x":13.84,"h":0.31},{"c":"F","l":"S","x":14.13,"h":0.41},{"c":"F","l":"S","x":14.34,"h":0.5},{"c":"F","l":"S","x":14.55,"h":0.71},{"c":"F","l":"S","x":14.77,"h":0.8},{"c":"F","l":"S","x":14.98,"h":0.85},{"c":"F","l":"S","x":15.26,"h":0.94},{"c":"F","l":"S","x":15.55,"h":1.0},{"c":"F","l":"S","x":15.76,"h":1.06},{"c":"F","l":"S","x":15.97,"h":1.18},{"c":"F","l":"S","x":16.26,"h":1.24},{"c":"F","l":"S","x":16.47,"h":1.18},{"c":"F","l":"S","x":16.68,"h":1.29},{"c":"F","l":"S","x":16.96,"h":1.31},{"c":"F","l":"S","x":17.18,"h":1.27},{"c":"F","l":"S","x":17.39,"h":1.33},{"c":"F","l":"S","x":17.6,"h":1.29},{"c":"F","l":"S","x":17.82,"h":1.18},{"c":"F","l":"S","x":18.1,"h":1.09},{"c":"F","l":"S","x":18.27,"h":1.04},{"c":"F","l":"S","x":18.41,"h":0.71},{"c":"F","l":"S","x":18.6,"h":0.48},{"c":"F","l":"S","x":18.81,"h":0.25},{"c":"F","l":"S","x":19.02,"h":0.11},{"c":"F","l":"S","x":19.23,"h":0.02},{"c":"F","l":"S","x":20.1,"h":0},
{"c":"S","l":"E","x":15,"h":0},
{"c":"C","l":"R","x":13.28},{"c":"F","l":"R","x":13.19},
{"c":"C","l":"A","x":9.6,"y":5.76,"x2":11.13,"y2":4.78}
]
},
"hconcat": [
{
 "data": {"name": "phft"},
 "title": {"text": ["PHFT", "[%]"], "dx": 18},
 "facet": {"row": {"field": "c", "type": "nominal", "sort": ["C","F","S"], "title": "Occurence per level", "header": {"labels": false, "titleOrient": "left", "titleFont": "Liberation Serif", "titleFontSize": 21, "titleFontWeight": "normal", "titleColor": "#000000", "titlePadding": 1}}},
 "spacing": {"row": 8},
 "resolve": {"scale": {"y": "independent"}},
 "spec": {
  "width": 258, "height": 190,
  "encoding": {
   "x": {"field": "x", "type": "quantitative", "scale": {"domain": [-7.1, 106.3], "nice": false, "zero": false}, "axis": {"values": [0,25,50,75,100], "title": null}},
   "color": {"field": "l", "type": "nominal", "scale": {"domain": ["S","I","M","N"], "range": ["#2FCFCB","#6F8FE3","#E0A23F","#E86A5C"]}, "legend": {"title": "Level of thermal performance:", "orient": "bottom", "direction": "horizontal", "titleOrient": "left", "titleFont": "Liberation Serif", "labelFont": "Liberation Serif", "titleLimit": 500, "symbolType": "square", "symbolSize": 500, "offset": 16, "labelExpr": "datum.value == 'S' ? 'Superior' : datum.value == 'I' ? 'Intermediate' : datum.value == 'M' ? 'Minimum' : 'None (not approved)'", "encode": {"symbols": {"update": {"fillOpacity": {"value": 0.5}, "stroke": {"value": "#444444"}, "strokeWidth": {"value": 1}}}}}}
  },
  "layer": [
   {"transform": [{"filter": "datum.l == 'N'"}], "mark": {"type": "area", "interpolate": "step-after", "fillOpacity": 0.45, "clip": true, "line": {"strokeWidth": 1.3}}, "encoding": {"y": {"field": "h", "type": "quantitative", "scale": {"domain": [-3.5, 1.78], "nice": false, "zero": false}, "axis": null}, "y2": {"datum": 0}}},
   {"transform": [{"filter": "datum.l == 'M'"}], "mark": {"type": "area", "interpolate": "step-after", "fillOpacity": 0.45, "clip": true, "line": {"strokeWidth": 1.3}}, "encoding": {"y": {"field": "h", "type": "quantitative", "scale": {"domain": [-2.5, 2.78], "nice": false, "zero": false}, "axis": null}, "y2": {"datum": 0}}},
   {"transform": [{"filter": "datum.l == 'I'"}], "mark": {"type": "area", "interpolate": "step-after", "fillOpacity": 0.45, "clip": true, "line": {"strokeWidth": 1.3}}, "encoding": {"y": {"field": "h", "type": "quantitative", "scale": {"domain": [-1.5, 3.78], "nice": false, "zero": false}, "axis": null}, "y2": {"datum": 0}}},
   {"transform": [{"filter": "datum.l == 'S'"}], "mark": {"type": "area", "interpolate": "step-after", "fillOpacity": 0.45, "clip": true, "line": {"strokeWidth": 1.3}}, "encoding": {"y": {"field": "h", "type": "quantitative", "scale": {"domain": [-0.5, 4.78], "nice": false, "zero": false}, "axis": null}, "y2": {"datum": 0}}},
   {"transform": [{"filter": "datum.l == 'R'"}], "mark": {"type": "rule", "strokeDash": [5, 4], "strokeWidth": 1.3}, "encoding": {"color": {"value": "#111111"}}},
   {"transform": [{"filter": "datum.l == 'R'"}], "mark": {"type": "text", "fontSize": 15, "font": "Liberation Serif"}, "encoding": {"y": {"datum": 0.79, "type": "quantitative", "scale": {"domain": [0.5, 5.78], "nice": false, "zero": false}, "axis": {"values": [1,2,3,4], "labels": false, "ticks": true, "tickSize": 4, "domain": false, "grid": true, "title": null}}, "text": {"value": "Reference"}, "color": {"value": "#333333"}}},
   {"transform": [{"filter": "datum.l == 'A'"}], "mark": {"type": "rule", "strokeWidth": 1.5, "clip": true}, "encoding": {"y": {"field": "y", "type": "quantitative", "scale": {"domain": [0.5, 5.78], "nice": false, "zero": false}, "axis": null}, "x2": {"field": "x2"}, "y2": {"field": "y2"}, "color": {"value": "#000000"}}},
   {"transform": [{"filter": "datum.l == 'A'"}], "mark": {"type": "point", "shape": "M-1,-1L0,0L-1,1", "filled": false, "size": 280, "strokeWidth": 1.5, "angle": 43, "opacity": 1}, "encoding": {"x": {"field": "x2", "type": "quantitative", "scale": {"domain": [-7.1, 106.3], "nice": false, "zero": false}}, "y": {"field": "y2", "type": "quantitative", "scale": {"domain": [0.5, 5.78], "nice": false, "zero": false}, "axis": null}, "color": {"value": "#000000"}}}
  ],
  "resolve": {"scale": {"y": "independent"}}
 }
},
{
 "data": {"name": "load"},
 "title": {"text": ["Thermal load", "[kWh/m².year]"]},
 "facet": {"row": {"field": "c", "type": "nominal", "sort": ["C","F","S"], "title": null, "header": {"labels": false}}},
 "spacing": {"row": 8},
 "resolve": {"scale": {"y": "independent"}},
 "spec": {
  "width": 258, "height": 190,
  "encoding": {
   "x": {"field": "x", "type": "quantitative", "scale": {"domain": [-28, 417], "nice": false, "zero": false}, "axis": {"values": [0,100,200,300,400], "title": null}},
   "color": {"field": "l", "type": "nominal", "scale": {"domain": ["S","I","M","N"], "range": ["#2FCFCB","#6F8FE3","#E0A23F","#E86A5C"]}, "legend": {"title": "Level of thermal performance:", "orient": "bottom", "direction": "horizontal", "titleOrient": "left", "titleFont": "Liberation Serif", "labelFont": "Liberation Serif", "titleLimit": 500, "symbolType": "square", "symbolSize": 500, "offset": 16, "labelExpr": "datum.value == 'S' ? 'Superior' : datum.value == 'I' ? 'Intermediate' : datum.value == 'M' ? 'Minimum' : 'None (not approved)'", "encode": {"symbols": {"update": {"fillOpacity": {"value": 0.5}, "stroke": {"value": "#444444"}, "strokeWidth": {"value": 1}}}}}}
  },
  "layer": [
   {"transform": [{"filter": "datum.l == 'N'"}], "mark": {"type": "area", "interpolate": "step-after", "fillOpacity": 0.45, "clip": true, "line": {"strokeWidth": 1.3}}, "encoding": {"y": {"field": "h", "type": "quantitative", "scale": {"domain": [-3.5, 1.78], "nice": false, "zero": false}, "axis": null}, "y2": {"datum": 0}}},
   {"transform": [{"filter": "datum.l == 'M'"}], "mark": {"type": "area", "interpolate": "step-after", "fillOpacity": 0.45, "clip": true, "line": {"strokeWidth": 1.3}}, "encoding": {"y": {"field": "h", "type": "quantitative", "scale": {"domain": [-2.5, 2.78], "nice": false, "zero": false}, "axis": null}, "y2": {"datum": 0}}},
   {"transform": [{"filter": "datum.l == 'I'"}], "mark": {"type": "area", "interpolate": "step-after", "fillOpacity": 0.45, "clip": true, "line": {"strokeWidth": 1.3}}, "encoding": {"y": {"field": "h", "type": "quantitative", "scale": {"domain": [-1.5, 3.78], "nice": false, "zero": false}, "axis": null}, "y2": {"datum": 0}}},
   {"transform": [{"filter": "datum.l == 'S'"}], "mark": {"type": "area", "interpolate": "step-after", "fillOpacity": 0.45, "clip": true, "line": {"strokeWidth": 1.3}}, "encoding": {"y": {"field": "h", "type": "quantitative", "scale": {"domain": [-0.5, 4.78], "nice": false, "zero": false}, "axis": null}, "y2": {"datum": 0}}},
   {"transform": [{"filter": "datum.l == 'R'"}], "mark": {"type": "rule", "strokeDash": [5, 4], "strokeWidth": 1.3}, "encoding": {"color": {"value": "#111111"}}},
   {"transform": [{"filter": "datum.l == 'R'"}], "mark": {"type": "text", "fontSize": 15, "font": "Liberation Serif"}, "encoding": {"y": {"datum": 0.79, "type": "quantitative", "scale": {"domain": [0.5, 5.78], "nice": false, "zero": false}, "axis": {"values": [1,2,3,4], "labels": false, "ticks": false, "domain": false, "grid": true, "title": null}}, "text": {"value": "Reference"}, "color": {"value": "#333333"}}},
   {"transform": [{"filter": "datum.l == 'A'"}], "mark": {"type": "rule", "strokeWidth": 1.5, "clip": true}, "encoding": {"y": {"field": "y", "type": "quantitative", "scale": {"domain": [0.5, 5.78], "nice": false, "zero": false}, "axis": null}, "x2": {"field": "x2"}, "y2": {"field": "y2"}, "color": {"value": "#000000"}}},
   {"transform": [{"filter": "datum.l == 'A'"}], "mark": {"type": "point", "shape": "M-1,-1L0,0L-1,1", "filled": false, "size": 280, "strokeWidth": 1.5, "angle": 137, "opacity": 1}, "encoding": {"x": {"field": "x2", "type": "quantitative", "scale": {"domain": [-28, 417], "nice": false, "zero": false}}, "y": {"field": "y2", "type": "quantitative", "scale": {"domain": [0.5, 5.78], "nice": false, "zero": false}, "axis": null}, "color": {"value": "#000000"}}}
  ],
  "resolve": {"scale": {"y": "independent"}}
 }
},
{
 "data": {"name": "tmax"},
 "title": {"text": ["Tomax", "[ºC]"]},
 "facet": {"row": {"field": "c", "type": "nominal", "sort": ["C","F","S"], "title": null, "header": {"labels": false}}},
 "spacing": {"row": 8},
 "resolve": {"scale": {"y": "independent"}},
 "spec": {
  "width": 258, "height": 190,
  "encoding": {
   "x": {"field": "x", "type": "quantitative", "scale": {"domain": [22.6, 50.6], "nice": false, "zero": false}, "axis": {"values": [30,40,50], "title": null}},
   "color": {"field": "l", "type": "nominal", "scale": {"domain": ["S","I","M","N"], "range": ["#2FCFCB","#6F8FE3","#E0A23F","#E86A5C"]}, "legend": {"title": "Level of thermal performance:", "orient": "bottom", "direction": "horizontal", "titleOrient": "left", "titleFont": "Liberation Serif", "labelFont": "Liberation Serif", "titleLimit": 500, "symbolType": "square", "symbolSize": 500, "offset": 16, "labelExpr": "datum.value == 'S' ? 'Superior' : datum.value == 'I' ? 'Intermediate' : datum.value == 'M' ? 'Minimum' : 'None (not approved)'", "encode": {"symbols": {"update": {"fillOpacity": {"value": 0.5}, "stroke": {"value": "#444444"}, "strokeWidth": {"value": 1}}}}}}
  },
  "layer": [
   {"transform": [{"filter": "datum.l == 'N'"}], "mark": {"type": "area", "interpolate": "step-after", "fillOpacity": 0.45, "clip": true, "line": {"strokeWidth": 1.3}}, "encoding": {"y": {"field": "h", "type": "quantitative", "scale": {"domain": [-3.5, 1.78], "nice": false, "zero": false}, "axis": null}, "y2": {"datum": 0}}},
   {"transform": [{"filter": "datum.l == 'M'"}], "mark": {"type": "area", "interpolate": "step-after", "fillOpacity": 0.45, "clip": true, "line": {"strokeWidth": 1.3}}, "encoding": {"y": {"field": "h", "type": "quantitative", "scale": {"domain": [-2.5, 2.78], "nice": false, "zero": false}, "axis": null}, "y2": {"datum": 0}}},
   {"transform": [{"filter": "datum.l == 'I'"}], "mark": {"type": "area", "interpolate": "step-after", "fillOpacity": 0.45, "clip": true, "line": {"strokeWidth": 1.3}}, "encoding": {"y": {"field": "h", "type": "quantitative", "scale": {"domain": [-1.5, 3.78], "nice": false, "zero": false}, "axis": null}, "y2": {"datum": 0}}},
   {"transform": [{"filter": "datum.l == 'S'"}], "mark": {"type": "area", "interpolate": "step-after", "fillOpacity": 0.45, "clip": true, "line": {"strokeWidth": 1.3}}, "encoding": {"y": {"field": "h", "type": "quantitative", "scale": {"domain": [-0.5, 4.78], "nice": false, "zero": false}, "axis": null}, "y2": {"datum": 0}}},
   {"transform": [{"filter": "datum.l == 'R'"}], "mark": {"type": "rule", "strokeDash": [5, 4], "strokeWidth": 1.3}, "encoding": {"color": {"value": "#111111"}}},
   {"transform": [{"filter": "datum.l == 'R'"}], "mark": {"type": "text", "fontSize": 15, "font": "Liberation Serif"}, "encoding": {"y": {"datum": 0.79, "type": "quantitative", "scale": {"domain": [0.5, 5.78], "nice": false, "zero": false}, "axis": {"values": [1,2,3,4], "labels": false, "ticks": false, "domain": false, "grid": true, "title": null}}, "text": {"value": "Reference"}, "color": {"value": "#333333"}}},
   {"transform": [{"filter": "datum.l == 'A'"}], "mark": {"type": "rule", "strokeWidth": 1.5, "clip": true}, "encoding": {"y": {"field": "y", "type": "quantitative", "scale": {"domain": [0.5, 5.78], "nice": false, "zero": false}, "axis": null}, "x2": {"field": "x2"}, "y2": {"field": "y2"}, "color": {"value": "#000000"}}},
   {"transform": [{"filter": "datum.l == 'A'"}], "mark": {"type": "point", "shape": "M-1,-1L0,0L-1,1", "filled": false, "size": 280, "strokeWidth": 1.5, "angle": 138, "opacity": 1}, "encoding": {"x": {"field": "x2", "type": "quantitative", "scale": {"domain": [22.6, 50.6], "nice": false, "zero": false}}, "y": {"field": "y2", "type": "quantitative", "scale": {"domain": [0.5, 5.78], "nice": false, "zero": false}, "axis": null}, "color": {"value": "#000000"}}}
  ],
  "resolve": {"scale": {"y": "independent"}}
 }
},
{
 "data": {"name": "tmin"},
 "title": {"text": ["Tomin", "[ºC]"], "dx": -16},
 "facet": {"row": {"field": "c", "type": "nominal", "sort": ["C","F","S"], "title": null, "header": {"labelOrient": "right", "labelAngle": 90, "labelFont": "Liberation Serif", "labelFontSize": 21, "labelFontWeight": "bold", "labelColor": "#1a1a1a", "labelPadding": 3, "labelExpr": "datum.value == 'C' ? 'Curitiba' : datum.value == 'F' ? 'Florianópolis' : 'São Luís'"}}},
 "spacing": {"row": 8},
 "resolve": {"scale": {"y": "independent"}},
 "spec": {
  "width": 258, "height": 190,
  "encoding": {
   "x": {"field": "x", "type": "quantitative", "scale": {"domain": [9.55, 20.6], "nice": false, "zero": false}, "axis": {"values": [12,15,18], "title": null}},
   "color": {"field": "l", "type": "nominal", "scale": {"domain": ["S","I","M","N"], "range": ["#2FCFCB","#6F8FE3","#E0A23F","#E86A5C"]}, "legend": {"title": "Level of thermal performance:", "orient": "bottom", "direction": "horizontal", "titleOrient": "left", "titleFont": "Liberation Serif", "labelFont": "Liberation Serif", "titleLimit": 500, "symbolType": "square", "symbolSize": 500, "offset": 16, "labelExpr": "datum.value == 'S' ? 'Superior' : datum.value == 'I' ? 'Intermediate' : datum.value == 'M' ? 'Minimum' : 'None (not approved)'", "encode": {"symbols": {"update": {"fillOpacity": {"value": 0.5}, "stroke": {"value": "#444444"}, "strokeWidth": {"value": 1}}}}}}
  },
  "layer": [
   {"transform": [{"filter": "datum.l == 'N'"}], "mark": {"type": "area", "interpolate": "step-after", "fillOpacity": 0.45, "clip": true, "line": {"strokeWidth": 1.3}}, "encoding": {"y": {"field": "h", "type": "quantitative", "scale": {"domain": [-3.5, 1.78], "nice": false, "zero": false}, "axis": null}, "y2": {"datum": 0}}},
   {"transform": [{"filter": "datum.l == 'M'"}], "mark": {"type": "area", "interpolate": "step-after", "fillOpacity": 0.45, "clip": true, "line": {"strokeWidth": 1.3}}, "encoding": {"y": {"field": "h", "type": "quantitative", "scale": {"domain": [-2.5, 2.78], "nice": false, "zero": false}, "axis": null}, "y2": {"datum": 0}}},
   {"transform": [{"filter": "datum.l == 'I'"}], "mark": {"type": "area", "interpolate": "step-after", "fillOpacity": 0.45, "clip": true, "line": {"strokeWidth": 1.3}}, "encoding": {"y": {"field": "h", "type": "quantitative", "scale": {"domain": [-1.5, 3.78], "nice": false, "zero": false}, "axis": null}, "y2": {"datum": 0}}},
   {"transform": [{"filter": "datum.l == 'S'"}], "mark": {"type": "area", "interpolate": "step-after", "fillOpacity": 0.45, "clip": true, "line": {"strokeWidth": 1.3}}, "encoding": {"y": {"field": "h", "type": "quantitative", "scale": {"domain": [-0.5, 4.78], "nice": false, "zero": false}, "axis": null}, "y2": {"datum": 0}}},
   {"transform": [{"filter": "datum.l == 'R'"}], "mark": {"type": "rule", "strokeDash": [5, 4], "strokeWidth": 1.3}, "encoding": {"color": {"value": "#111111"}}},
   {"transform": [{"filter": "datum.l == 'R'"}], "mark": {"type": "text", "fontSize": 15, "font": "Liberation Serif"}, "encoding": {"y": {"datum": 0.79, "type": "quantitative", "scale": {"domain": [0.5, 5.78], "nice": false, "zero": false}, "axis": {"values": [1,2,3,4], "labels": false, "ticks": false, "domain": false, "grid": true, "title": null}}, "text": {"value": "Reference"}, "color": {"value": "#333333"}}},
   {"transform": [{"filter": "datum.l == 'A'"}], "mark": {"type": "rule", "strokeWidth": 1.5, "clip": true}, "encoding": {"y": {"field": "y", "type": "quantitative", "scale": {"domain": [0.5, 5.78], "nice": false, "zero": false}, "axis": null}, "x2": {"field": "x2"}, "y2": {"field": "y2"}, "color": {"value": "#000000"}}},
   {"transform": [{"filter": "datum.l == 'A'"}], "mark": {"type": "point", "shape": "M-1,-1L0,0L-1,1", "filled": false, "size": 280, "strokeWidth": 1.5, "angle": 43, "opacity": 1}, "encoding": {"x": {"field": "x2", "type": "quantitative", "scale": {"domain": [9.55, 20.6], "nice": false, "zero": false}}, "y": {"field": "y2", "type": "quantitative", "scale": {"domain": [0.5, 5.78], "nice": false, "zero": false}, "axis": null}, "color": {"value": "#000000"}}}
  ],
  "resolve": {"scale": {"y": "independent"}}
 }
}
]
}
